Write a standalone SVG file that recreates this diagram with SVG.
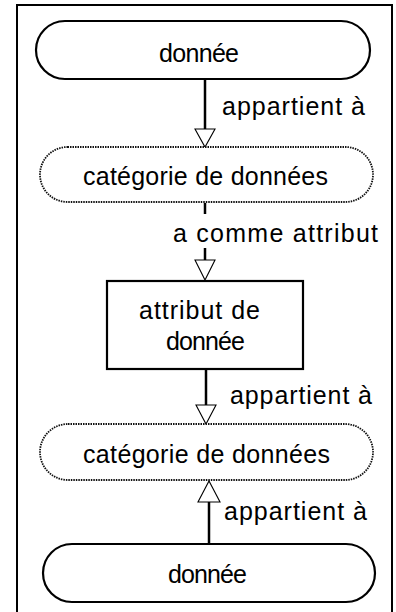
<svg xmlns="http://www.w3.org/2000/svg" width="396" height="612" viewBox="0 0 396 612">
<style>
text{font-family:"Liberation Sans",Arial,sans-serif;font-size:25px;fill:#000}
.solid{fill:#fff;stroke:#000;stroke-width:2.2}
.dot{fill:#fff;stroke:#111;stroke-width:1.8;stroke-dasharray:1.5 1}
.line{stroke:#000;stroke-width:2.5;fill:none}
.head{fill:#fff;stroke:#000;stroke-width:1.1}
</style>
<rect x="0" y="0" width="396" height="612" fill="#fff"/>
<path d="M17,620 V5 H392 V620" fill="none" stroke="#000" stroke-width="2"/>
<g id="edges">
  <line class="line" x1="205" y1="79" x2="205" y2="129"/>
  <polygon class="head" points="195,129 215,129 205,147"/>
  <text x="222" y="115" textLength="143" lengthAdjust="spacing">appartient à</text>
  <line class="line" x1="205" y1="203" x2="205" y2="214"/>
  <text x="173" y="242" textLength="205" lengthAdjust="spacing">a comme attribut</text>
  <line class="line" x1="205" y1="248" x2="205" y2="260"/>
  <polygon class="head" points="195,260 215,260 205,280"/>
  <line class="line" x1="206" y1="369" x2="206" y2="405"/>
  <polygon class="head" points="196,405 216,405 206,424"/>
  <text x="230" y="404" textLength="142" lengthAdjust="spacing">appartient à</text>
  <line class="line" x1="209" y1="502" x2="209" y2="543"/>
  <polygon class="head" points="198,502 220,502 209,481"/>
  <text x="224" y="520" textLength="143" lengthAdjust="spacing">appartient à</text>
</g>
<g id="n1">
  <rect class="solid" x="36" y="21" width="334" height="58" rx="29"/>
  <text x="159" y="62" textLength="80" lengthAdjust="spacing">donnée</text>
</g>
<g id="n2">
  <rect class="dot" x="40" y="147" width="333" height="55" rx="27.5"/>
  <text x="83" y="185" textLength="245" lengthAdjust="spacing">catégorie de données</text>
</g>
<g id="n3">
  <rect class="solid" x="107" y="281" width="196" height="88"/>
  <text x="139" y="319" textLength="121" lengthAdjust="spacing">attribut de</text>
  <text x="166" y="350" textLength="79" lengthAdjust="spacing">donnée</text>
</g>
<g id="n4">
  <rect class="dot" x="40" y="424" width="333" height="56" rx="28"/>
  <text x="83" y="463" textLength="247" lengthAdjust="spacing">catégorie de données</text>
</g>
<g id="n5">
  <rect class="solid" x="43" y="544" width="332" height="58" rx="29"/>
  <text x="168" y="583" textLength="79" lengthAdjust="spacing">donnée</text>
</g>
</svg>
